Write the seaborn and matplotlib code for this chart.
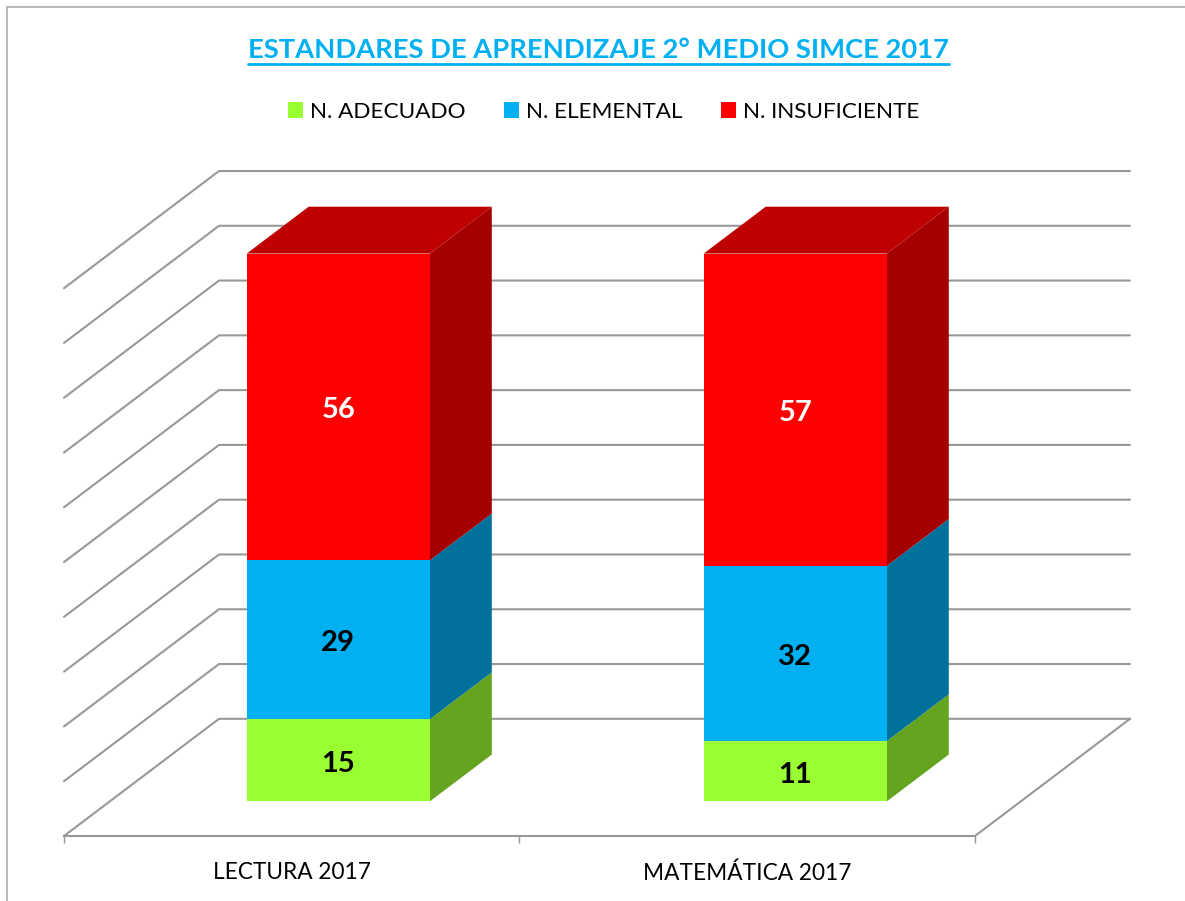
import matplotlib
matplotlib.use("Agg")
import matplotlib.pyplot as plt
import seaborn as sns
import numpy as np
from matplotlib.lines import Line2D
from matplotlib.patches import Patch
from matplotlib.transforms import Affine2D

categories = ["LECTURA 2017", "MATEMÁTICA 2017"]
series_names = ["N. ADECUADO", "N. ELEMENTAL", "N. INSUFICIENTE"]
adecuado = [15, 11]
elemental = [29, 32]
insuficiente = [56, 57]
front_colors = ["#99FF33", "#00B0F0", "#FF0000"]
side_colors = ["#64A41F", "#00719B", "#A50000"]
top_color = "#BF0000"
label_colors = ["black", "black", "white"]
title_text = "ESTANDARES DE APRENDIZAJE 2° MEDIO SIMCE 2017"
grid_values = list(range(0, 101, 10))

W, H = 1185, 901
GRID = "#989898"
DX, DY = 0.3403, 21.39   # oblique projection of full chart depth, in data units
D0, D1 = 0.30, 0.70      # depth range of the bars
BAR_W = 0.402
NUDGE_X = [0.0, 0.0033]  # small per-category offset of the bars
DROP_Y = 0.1

sns.set_theme(style="white")
plt.rcParams["font.family"] = ["Lato", "DejaVu Sans"]
fig = plt.figure(figsize=(W / 100, H / 100), dpi=100, facecolor="white")
ax = fig.add_axes([64 / W, (H - 836) / H, (1130 - 64) / W, (836 - 171) / H])
ax.patch.set_alpha(0)

def proj(x, y, d):
    return x + d * DX, y + d * DY

def bproj(i, x, y, d):
    return x + NUDGE_X[i] + d * DX, y - DROP_Y + d * DY

series = [adecuado, elemental, insuficiente]
bottoms = np.zeros(2)
stack = []
for vals, fc in zip(series, front_colors):
    sns.barplot(x=categories, y=vals, bottom=bottoms.copy(), color=fc, width=BAR_W,
                saturation=1, linewidth=0, ax=ax, zorder=5, legend=False)
    stack.append((bottoms.copy(), bottoms + np.array(vals)))
    bottoms = bottoms + np.array(vals)

ax.set_xlim(-0.5, 1.5 + DX)
ax.set_ylim(0, 100 + DY)
# move the front faces onto their depth plane
for p in ax.patches:
    i = int(round(p.get_x() + p.get_width() / 2))
    p.set_transform(Affine2D().translate(D0 * DX + NUDGE_X[i], D0 * DY - DROP_Y) + ax.transData)

# walls and floor
for v in grid_values:
    x0, y0 = proj(-0.5, v, 0)
    x1, y1 = proj(-0.5, v, 1)
    x2, y2 = proj(1.5, v, 1)
    ax.plot([x0, x1, x2], [y0, y1, y2], color=GRID, lw=1.5, zorder=1, clip_on=False,
            solid_joinstyle="miter")
x0, y0 = proj(1.5, 0, 0)
x1, y1 = proj(1.5, 0, 1)
ax.plot([x0, x1], [y0, y1], color=GRID, lw=1.5, zorder=1, clip_on=False)

# 3D sides, tops and value labels
for (lo, hi), vals, sc, lc in zip(stack, series, side_colors, label_colors):
    for i in range(2):
        xr = i + BAR_W / 2
        a = bproj(i, xr, lo[i], D0); b = bproj(i, xr, lo[i], D1)
        c = bproj(i, xr, hi[i], D1); d = bproj(i, xr, hi[i], D0)
        ax.fill(*zip(a, b, c, d), color=sc, lw=0, zorder=4, clip_on=False)
        cx, cy = bproj(i, i, (lo[i] + hi[i]) / 2, D0)
        ax.annotate(str(vals[i]), (cx, cy), xytext=(0, -2.5), textcoords="offset points",
                    color=lc, ha="center", va="center",
                    fontsize=21, fontweight="bold", zorder=8)
for i in range(2):
    xl, xr = i - BAR_W / 2, i + BAR_W / 2
    top = stack[-1][1][i]
    pts = [bproj(i, xl, top, D0), bproj(i, xr, top, D0), bproj(i, xr, top, D1), bproj(i, xl, top, D1)]
    ax.fill(*zip(*pts), color=top_color, lw=0, zorder=4, clip_on=False)

# axis
sns.despine(ax=ax, left=True, top=True, right=True)
ax.spines["bottom"].set_bounds(-0.5, 1.5)
ax.spines["bottom"].set_color(GRID)
ax.spines["bottom"].set_linewidth(1.5)
ax.set_yticks([])
ax.set_xticks([0, 1], categories)
ax.set_xticks([-0.5, 0.5, 1.5], minor=True)
ax.tick_params(axis="x", which="major", length=0, pad=19, labelsize=16.3, labelcolor="black")
ax.tick_params(axis="x", which="minor", length=5, width=1, color=GRID, bottom=True)
ax.set_xlabel(""); ax.set_ylabel("")

# legend
handles = [Patch(facecolor=c, edgecolor="none", label=n) for c, n in zip(front_colors, series_names)]
fig.legend(handles=handles, loc="center", bbox_to_anchor=(603.5 / W, 1 - 112 / H), ncol=3, frameon=False,
           fontsize=16.2, handlelength=0.667, handleheight=0.667, handletextpad=0.31,
           columnspacing=1.72, labelcolor="black", borderpad=0)

# title with underline
t = fig.text(598.5 / W, 1 - 50 / H, title_text, color="#00B0F0", fontsize=19.7, fontweight="bold",
             ha="center", va="center")
fig.canvas.draw()
bb = t.get_window_extent()
fig.add_artist(Line2D([bb.x0 / W, bb.x1 / W], [1 - 63.5 / H] * 2, color="#00B0F0", lw=2.0))

# chart-area frame (left and top only are visible in the crop)
fig.add_artist(Line2D([7 / W, 7 / W, 1], [0, 1 - 7 / H, 1 - 7 / H], color="#A6A6A6", lw=1.1))

fig.savefig("out.png", dpi=100, facecolor="white")
